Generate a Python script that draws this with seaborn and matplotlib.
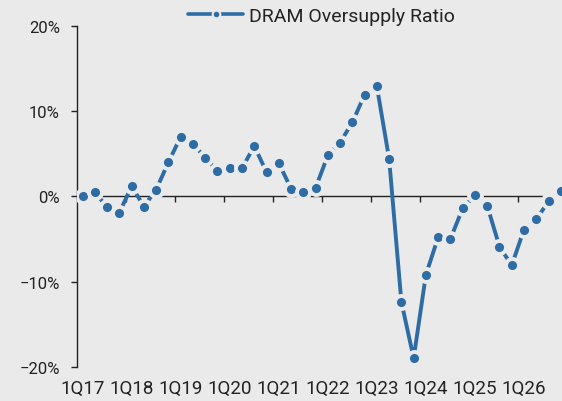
import numpy as np
import matplotlib
matplotlib.use("Agg")
import matplotlib.pyplot as plt
from matplotlib.lines import Line2D
from matplotlib.ticker import FuncFormatter
import seaborn as sns

# data (percent), one value per quarter 1Q17..4Q26
quarters = [f"{q}Q{y}" for y in range(17, 27) for q in range(1, 5)]
oversupply = [0.0, 0.5, -1.3, -1.9, 1.2, -1.2, 0.8, 4.0,
              7.0, 6.2, 4.5, 3.0, 3.3, 3.3, 5.9, 2.85,
              3.9, 0.9, 0.5, 1.0, 4.8, 6.3, 8.7, 11.9,
              12.9, 4.4, -12.4, -19.0, -9.2, -4.8, -5.0, -1.4,
              0.1, -1.1, -5.9, -8.1, -3.9, -2.7, -0.6, 0.6]
year_labels = ["1Q17", "1Q18", "1Q19", "1Q20", "1Q21",
               "1Q22", "1Q23", "1Q24", "1Q25", "1Q26"]
y_ticks = [-20, -10, 0, 10, 20]

bg = "#eaeaea"
blue = "#2d6ca5"
ink = "#222222"

sns.set_style("white", {"axes.facecolor": bg, "figure.facecolor": bg})
plt.rcParams['font.family'] = ['Roboto', 'DejaVu Sans']
plt.rcParams['axes.unicode_minus'] = True

fig = plt.figure(figsize=(5.62, 4.02), dpi=100)
ax = fig.add_axes([76.5 / 562, 34.3 / 402, 1 - 76.5 / 562, 340.7 / 402])

idx = np.arange(len(quarters))
sns.lineplot(x=idx, y=oversupply, ax=ax, color=blue, linewidth=2.8,
             marker="o", markersize=9.4, markerfacecolor=blue,
             markeredgecolor=bg, markeredgewidth=2.8, zorder=3, legend=False)

ax.set_xlim(-0.5, 39.1)
ax.set_ylim(-20, 20)

# x axis line sits on zero, ticks between years
ax.spines['top'].set_visible(False)
ax.spines['right'].set_visible(False)
ax.spines['bottom'].set_position(('data', 0))
ax.spines['bottom'].set_bounds(-0.5, 37.5)
ax.spines['left'].set_bounds(-20, 20)
for s in ('bottom', 'left'):
    ax.spines[s].set_color(ink)
    ax.spines[s].set_linewidth(1.0)
    ax.spines[s].set_zorder(2)

ax.set_xticks(np.arange(3.5, 36, 4))
ax.set_xticklabels([])
ax.tick_params(axis='x', bottom=True, direction='out', length=4, width=1, color=ink)

ax.set_yticks(y_ticks)
ax.yaxis.set_major_formatter(FuncFormatter(lambda v, p: f"{v:.0f}%".replace("-", "\u2212")))
ax.tick_params(axis='y', left=True, direction='out', length=4, width=1, color=ink,
               labelsize=12, labelcolor=ink, pad=8)

# year labels along the bottom of the plot
sec = ax.secondary_xaxis('bottom')
sec.set_xticks(idx[::4])
sec.set_xticklabels(year_labels)
sec.spines['bottom'].set_visible(False)
sec.tick_params(axis='x', length=0, labelsize=13.5, labelcolor=ink, pad=9)

handle = Line2D([], [], color=blue, linewidth=2.6, marker="o", markersize=5.5,
                markerfacecolor=blue, markeredgecolor=bg, markeredgewidth=1.5)
fig.legend([handle], ["DRAM Oversupply Ratio"], loc='center',
           bbox_to_anchor=(321.5 / 562, 1 - 16.5 / 402), frameon=False,
           fontsize=14, handlelength=2.8, handletextpad=0.3, labelcolor=ink)

fig.savefig("out.png", dpi=100, facecolor=bg)
